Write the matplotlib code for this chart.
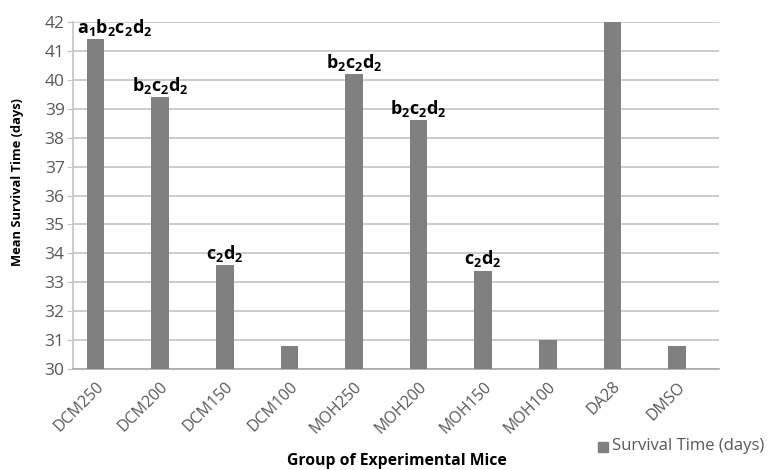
import numpy as np
import matplotlib
matplotlib.use('Agg')
import matplotlib.pyplot as plt
import matplotlib.patches as mpatches
import matplotlib.transforms as mtransforms

# data
groups = ['DCM250', 'DCM200', 'DCM150', 'DCM100', 'MOH250',
          'MOH200', 'MOH150', 'MOH100', 'DA28', 'DMSO']
survival = [41.4, 39.4, 33.6, 30.8, 40.2, 38.6, 33.4, 31.0, 42.0, 30.8]
letters = ['a_1b_2c_2d_2', 'b_2c_2d_2', 'c_2d_2', '', 'b_2c_2d_2',
           'b_2c_2d_2', 'c_2d_2', '', '', '']
yticks = np.arange(30, 43, 1)

plt.rcParams['font.family'] = ['Open Sans', 'DejaVu Sans']
plt.rcParams['mathtext.fontset'] = 'custom'
plt.rcParams['mathtext.rm'] = 'Open Sans'
plt.rcParams['mathtext.bf'] = 'Open Sans:bold'

txtcol = '#595959'
barcol = '#808080'
gridcol = '#c4c4c4'

fig = plt.figure(figsize=(7.69, 4.70), dpi=100)
ax = fig.add_axes([73/769, 1-369/470, (719-73)/769, (369-22)/470])

x = np.arange(len(groups))
ax.bar(x, [v - 30 for v in survival], bottom=30, width=0.27,
       color=barcol, zorder=3)

ax.set_xlim(-0.35, 9.65)
ax.set_ylim(30, 42)
ax.set_yticks(yticks)
ax.set_yticklabels([str(t) for t in yticks], fontsize=12.5, color=txtcol)
ax.yaxis.grid(True, color=gridcol, lw=1.2, zorder=0)
ax.set_xticks(x)
ax.set_xticklabels(groups, rotation=45, ha='right', rotation_mode='anchor',
                   fontsize=11.5, color=txtcol)
shift = mtransforms.ScaledTranslation(7/100, 0, fig.dpi_scale_trans)
for lab in ax.get_xticklabels():
    lab.set_transform(lab.get_transform() + shift)
ax.tick_params(axis='x', length=0, pad=7)
ax.tick_params(axis='y', length=4, color=gridcol, pad=2)
for s in ['top', 'right']:
    ax.spines[s].set_visible(False)
ax.spines['left'].set_color(gridcol)
ax.spines['bottom'].set_color('#a8a8a8')
ax.spines['left'].set_linewidth(1.2)
ax.spines['bottom'].set_linewidth(1.2)

# significance letters above bars
for i, (v, lab) in enumerate(zip(survival, letters)):
    if not lab:
        continue
    if i == 0:
        t = ax.annotate(r'$\mathbf{%s}$' % lab, xy=(-0.35, v),
                        xytext=(3, 1), textcoords='offset points',
                        ha='left', va='bottom', fontsize=13, color='black')
    else:
        t = ax.annotate(r'$\mathbf{%s}$' % lab, xy=(i, v),
                        xytext=(0, 1), textcoords='offset points',
                        ha='center', va='bottom', fontsize=13, color='black')
    t.set_clip_on(False)

fig.text(18/769, 1-182/470, 'Mean Survival Time (days)', fontsize=9.3,
         fontweight='bold', rotation=90, ha='center', va='center')
fig.text(397/769, 1-461/470, 'Group of Experimental Mice', fontsize=11.3,
         fontweight='bold', ha='center', va='center')

# legend
fig.patches.append(mpatches.Rectangle((598/769, 1-452/470), 10/769, 10/470,
                                      transform=fig.transFigure,
                                      color=barcol))
fig.text(612/769, 1-446/470, 'Survival Time (days)', fontsize=12,
         color=txtcol, ha='left', va='center')

fig.savefig('out.png', dpi=100)
